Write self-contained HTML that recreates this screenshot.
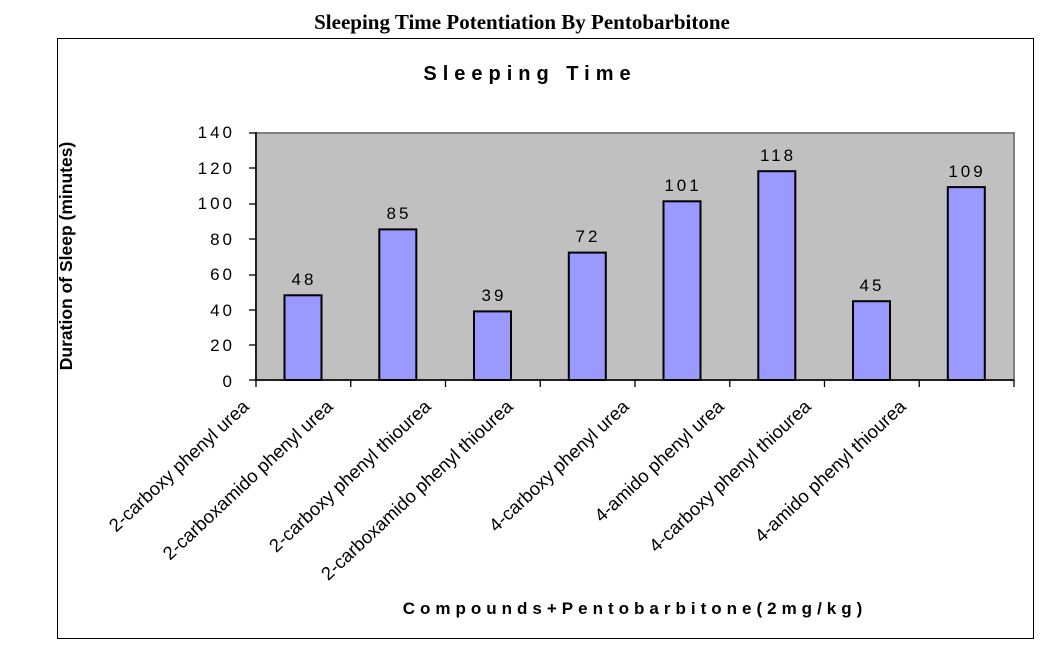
<!DOCTYPE html>
<html><head><style>
body{margin:0;background:#fff;}
svg text{font-family:"Liberation Sans",Arial,sans-serif;}
</style></head><body>
<svg width="1047" height="649" xmlns="http://www.w3.org/2000/svg">
<text x="522" y="29" text-anchor="middle" style="font-family:'Liberation Serif',serif;font-weight:bold;font-size:21px">Sleeping Time Potentiation By Pentobarbitone</text>
<rect x="57.5" y="38.5" width="976" height="600" fill="#fff" stroke="#000" stroke-width="1"/>
<text x="530" y="80" text-anchor="middle" font-weight="bold" font-size="20" letter-spacing="6">Sleeping Time</text>
<rect x="256" y="133" width="758" height="247" fill="#c0c0c0" stroke="#808080" stroke-width="2"/>
<g stroke="#000" stroke-width="1.5">
<line x1="256" y1="132" x2="256" y2="381"/>
<line x1="255" y1="380" x2="1014" y2="380"/>
</g>
<g font-size="17" text-anchor="end" letter-spacing="3">
<text x="235" y="138">140</text><text x="235" y="174">120</text><text x="235" y="209">100</text><text x="235" y="245">80</text><text x="235" y="280">60</text><text x="235" y="316">40</text><text x="235" y="351">20</text><text x="235" y="387">0</text>
</g>
<g stroke="#000" stroke-width="1.3">
<line x1="249" y1="133" x2="256" y2="133"/><line x1="249" y1="168" x2="256" y2="168"/><line x1="249" y1="204" x2="256" y2="204"/><line x1="249" y1="239" x2="256" y2="239"/><line x1="249" y1="275" x2="256" y2="275"/><line x1="249" y1="310" x2="256" y2="310"/><line x1="249" y1="345" x2="256" y2="345"/><line x1="249" y1="380" x2="256" y2="380"/>
<line x1="256" y1="380" x2="256" y2="387"/><line x1="350.75" y1="380" x2="350.75" y2="387"/><line x1="445.5" y1="380" x2="445.5" y2="387"/><line x1="540.25" y1="380" x2="540.25" y2="387"/><line x1="635" y1="380" x2="635" y2="387"/><line x1="729.75" y1="380" x2="729.75" y2="387"/><line x1="824.5" y1="380" x2="824.5" y2="387"/><line x1="919.25" y1="380" x2="919.25" y2="387"/><line x1="1014" y1="380" x2="1014" y2="387"/>
</g>
<g fill="#9999ff" stroke="#000" stroke-width="2">
<rect x="284.5" y="295.3" width="37" height="84.7"/>
<rect x="379.3" y="229.4" width="37" height="150.6"/>
<rect x="474" y="311.4" width="37" height="68.6"/>
<rect x="568.8" y="252.6" width="37" height="127.4"/>
<rect x="663.5" y="201.3" width="37" height="178.7"/>
<rect x="758.3" y="171.2" width="37" height="208.8"/>
<rect x="853" y="301.2" width="37" height="78.8"/>
<rect x="947.8" y="187.1" width="37" height="192.9"/>
</g>
<g font-size="17" text-anchor="middle" letter-spacing="3">
<text x="304" y="285">48</text><text x="399" y="219">85</text><text x="494" y="301">39</text><text x="588" y="242">72</text><text x="683" y="191">101</text><text x="778" y="161">118</text><text x="872" y="291">45</text><text x="967" y="177">109</text>
</g>
<g font-size="18.5" text-anchor="end">
<text transform="translate(250,408) rotate(-43)">2-carboxy phenyl urea</text>
<text transform="translate(334,408) rotate(-43)">2-carboxamido phenyl urea</text>
<text transform="translate(432,408) rotate(-43)">2-carboxy phenyl thiourea</text>
<text transform="translate(514,408) rotate(-43)">2-carboxamido phenyl thiourea</text>
<text transform="translate(630,408) rotate(-43)">4-carboxy phenyl urea</text>
<text transform="translate(725,408) rotate(-43)">4-amido phenyl urea</text>
<text transform="translate(812,408) rotate(-43)">4-carboxy phenyl thiourea</text>
<text transform="translate(907,408) rotate(-43)">4-amido phenyl thiourea</text>
</g>
<text x="635" y="614" text-anchor="middle" font-weight="bold" font-size="17" letter-spacing="5">Compounds+Pentobarbitone(2mg/kg)</text>
<text transform="translate(72,256) rotate(-90)" text-anchor="middle" font-weight="bold" font-size="17.5">Duration of Sleep (minutes)</text>
</svg>
</body></html>
